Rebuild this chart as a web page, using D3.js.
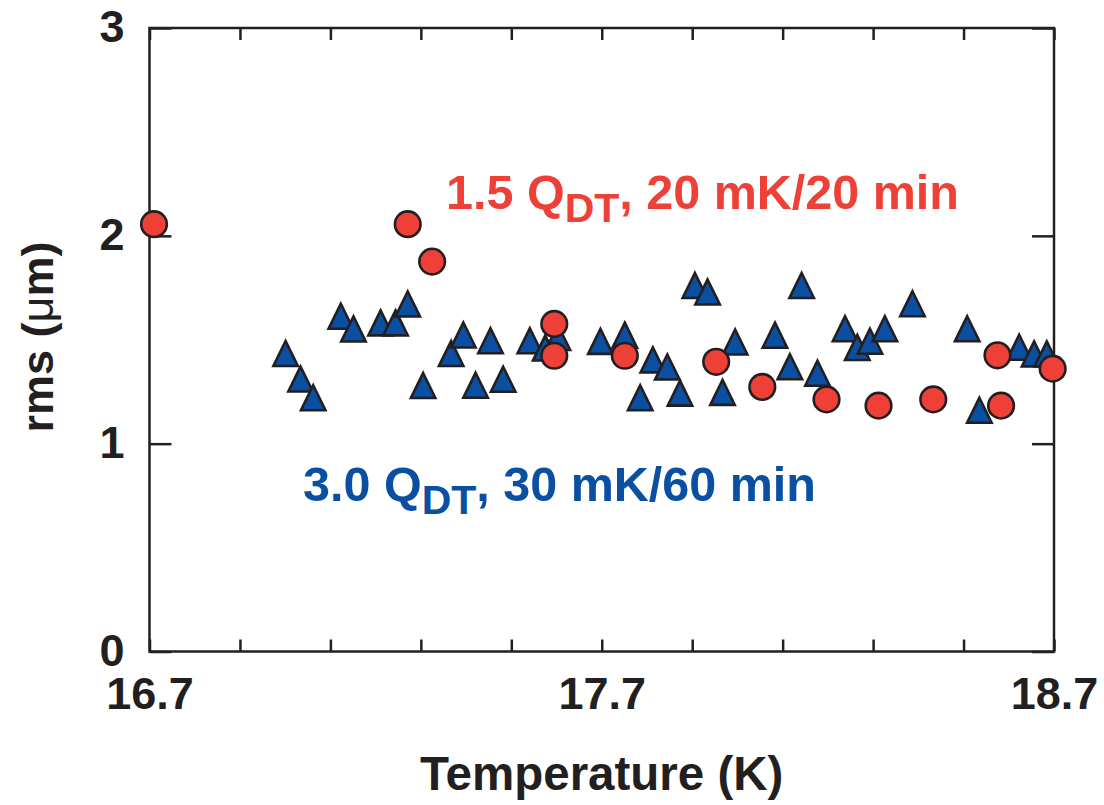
<!DOCTYPE html>
<html lang="en">
<head>
<meta charset="UTF-8">
<title>rms vs temperature</title>
<script src="https://cdn.jsdelivr.net/npm/d3@7"></script>
<style>
  body { margin: 0; background: #fff; }
  svg { display: block; }
  text { font-family: "Liberation Sans", Arial, Helvetica, sans-serif; font-weight: bold; }
</style>
</head>
<body>
<script>
// 1.5 Q_DT, 20 mK/20 min  (red circles)
const circleT   = [16.710, 17.271, 17.325, 17.595, 17.595, 17.751, 17.953, 18.055, 18.197, 18.312, 18.433, 18.575, 18.583, 18.697];
const circleRms = [2.056, 2.056, 1.876, 1.576, 1.423, 1.423, 1.394, 1.273, 1.213, 1.183, 1.213, 1.425, 1.183, 1.361];

// 3.0 Q_DT, 30 mK/60 min  (blue triangles)
const triT = [17.001, 17.034, 17.062, 17.123, 17.151, 17.211, 17.244, 17.271, 17.305, 17.367,
              17.394, 17.421, 17.454, 17.482, 17.541, 17.575, 17.603, 17.697, 17.751, 17.785,
              17.813, 17.845, 17.873, 17.906, 17.934, 17.967, 17.995, 18.083, 18.116, 18.142,
              18.177, 18.238, 18.265, 18.293, 18.326, 18.387, 18.508, 18.535, 18.623, 18.656, 18.684];
const triRms = [1.434, 1.311, 1.221, 1.613, 1.552, 1.581, 1.581, 1.672, 1.280, 1.434,
                1.523, 1.281, 1.495, 1.310, 1.495, 1.460, 1.511, 1.492, 1.522, 1.221,
                1.403, 1.369, 1.243, 1.761, 1.730, 1.247, 1.489, 1.522, 1.370, 1.761,
                1.339, 1.553, 1.463, 1.493, 1.553, 1.673, 1.553, 1.161, 1.464, 1.432, 1.432];

const xTicks = d3.range(11).map(i => +(16.7 + i * 0.2).toFixed(1));
const xLabels = [16.7, 17.7, 18.7];
const yTicks = [0, 1, 2, 3];

const W = 1104, H = 805;
const ink = "#231F20", red = "#EE4036", blue = "#0A4FA2";

const svg = d3.select("body").append("svg").attr("width", W).attr("height", H);

const x = d3.scaleLinear().domain([16.7, 18.7]).range([149.5, 1054]);
const y = d3.scaleLinear().domain([0, 3]).range([651.5, 28]);

// axes (ticks point inward)
function styleAxis(g) {
  g.select(".domain").remove();
  g.selectAll(".tick line").attr("stroke", ink).attr("stroke-width", 2.5);
  g.selectAll("text").attr("fill", ink).style("font-size", "45px").attr("font-family", null);
}

svg.append("g").attr("transform", `translate(0,${y(0)})`)
  .call(d3.axisBottom(x).tickValues(xTicks).tickSizeInner(-12).tickSizeOuter(0).tickPadding(26)
    .tickFormat(d => xLabels.includes(d) ? d.toFixed(1) : ""))
  .call(styleAxis)
  .call(g => g.selectAll("text").attr("dy", "0.71em"));

svg.append("g").attr("transform", `translate(0,${y(3)})`)
  .call(d3.axisTop(x).tickValues(xTicks).tickSizeInner(-12).tickSizeOuter(0).tickFormat(""))
  .call(styleAxis);

svg.append("g").attr("transform", `translate(${x(16.7)},0)`)
  .call(d3.axisLeft(y).tickValues(yTicks).tickSizeInner(-22).tickSizeOuter(0).tickPadding(25)
    .tickFormat(d3.format("d")))
  .call(styleAxis)
  .call(g => g.selectAll("text").attr("dy", "0.3em"));

svg.append("g").attr("transform", `translate(${x(18.7)},0)`)
  .call(d3.axisRight(y).tickValues(yTicks).tickSizeInner(-22).tickSizeOuter(0).tickFormat(""))
  .call(styleAxis);

// frame
svg.append("rect")
  .attr("x", x(16.7)).attr("y", y(3))
  .attr("width", x(18.7) - x(16.7)).attr("height", y(0) - y(3))
  .attr("fill", "none").attr("stroke", ink).attr("stroke-width", 2.5);

// triangle symbol centred on its bounding box
const tallTriangle = {
  draw(ctx) {
    const w = 24.5, h = 25;
    ctx.moveTo(0, -h / 2);
    ctx.lineTo(w / 2, h / 2);
    ctx.lineTo(-w / 2, h / 2);
    ctx.closePath();
  }
};

svg.append("g").selectAll("path")
  .data(triT.map((t, i) => [t, triRms[i]]))
  .join("path")
  .attr("transform", d => `translate(${x(d[0])},${y(d[1])})`)
  .attr("d", d3.symbol().type(tallTriangle))
  .attr("fill", blue).attr("stroke", ink).attr("stroke-width", 2.6)
  .attr("stroke-linejoin", "miter");

svg.append("g").selectAll("circle")
  .data(circleT.map((t, i) => [t, circleRms[i]]))
  .join("circle")
  .attr("cx", d => x(d[0])).attr("cy", d => y(d[1])).attr("r", 12.8)
  .attr("fill", red).attr("stroke", ink).attr("stroke-width", 2.6);

// series labels
function seriesLabel(px, py, color, lead, tail) {
  const t = svg.append("text").attr("x", px).attr("y", py).attr("fill", color).style("font-size", "48.5px");
  t.append("tspan").text(lead + " Q");
  t.append("tspan").attr("dy", 13).style("font-size", "41px").text("DT");
  t.append("tspan").attr("dy", -13).text(", " + tail);
}
seriesLabel(446, 209, red, "1.5", "20 mK/20 min");
seriesLabel(303, 501, blue, "3.0", "30 mK/60 min");

// axis titles
svg.append("text")
  .attr("x", (x(16.7) + x(18.7)) / 2).attr("y", 790)
  .attr("text-anchor", "middle").attr("fill", ink).style("font-size", "47.5px")
  .text("Temperature (K)");

const yt = svg.append("text")
  .attr("transform", `translate(53,337) rotate(-90)`)
  .attr("text-anchor", "middle").attr("fill", ink).style("font-size", "45px");
yt.append("tspan").text("rms (");
yt.append("tspan").style("font-weight", "normal").text("\u03BC");
yt.append("tspan").text("m)");
</script>
</body>
</html>
